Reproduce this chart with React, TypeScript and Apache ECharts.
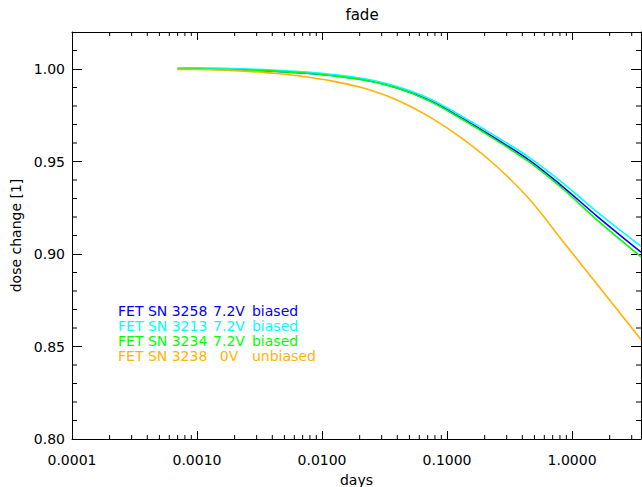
import React, { useEffect, useRef } from "react";
import * as echarts from "echarts";

// ---- data ----
const days = [0.0007, 0.001, 0.002, 0.0034, 0.0048, 0.0076, 0.0116, 0.0214, 0.0396, 0.0731, 0.135, 0.25, 0.46, 0.85, 1.58, 3.56];
const fet3258 = [1.0, 1.0, 0.9996, 0.9991, 0.9986, 0.9977, 0.9966, 0.9942, 0.9899, 0.983, 0.973, 0.962, 0.9505, 0.9362, 0.9205, 0.901];
const fet3213 = [1.0006, 1.0006, 1.0002, 0.9997, 0.9992, 0.9983, 0.9972, 0.9948, 0.9905, 0.9838, 0.974, 0.9633, 0.952, 0.9382, 0.9228, 0.9042];
const fet3234 = [1.0, 1.0, 0.9996, 0.9991, 0.9986, 0.9977, 0.9965, 0.9941, 0.9897, 0.9826, 0.9724, 0.9613, 0.9495, 0.935, 0.9185, 0.8985];
const fet3238 = [0.9998, 0.9997, 0.9991, 0.9982, 0.9973, 0.9957, 0.9937, 0.9897, 0.9833, 0.974, 0.962, 0.9473, 0.9293, 0.9066, 0.8838, 0.8538];

const serialNumbers = ["3258", "3213", "3234", "3238"];
const voltages = ["7.2V", "7.2V", "7.2V", "0V"];
const biasLabels = ["biased", "biased", "biased", "unbiased"];
const seriesValues = [fet3258, fet3213, fet3234, fet3238];
const colors = ["#0000ff", "#00ffff", "#00ff00", "#ffb400"];

const xMin = 0.0001;
const xMax = 3.56;
const yMin = 0.8;
const yMax = 1.02;
const xMinorTicks = [
  0.0002, 0.0003, 0.0004, 0.0005, 0.0006, 0.0007, 0.0008, 0.0009,
  0.002, 0.003, 0.004, 0.005, 0.006, 0.007, 0.008, 0.009,
  0.02, 0.03, 0.04, 0.05, 0.06, 0.07, 0.08, 0.09,
  0.2, 0.3, 0.4, 0.5, 0.6, 0.7, 0.8, 0.9,
  2, 3,
];
const yMinorTicks = [0.81, 0.82, 0.83, 0.84, 0.86, 0.87, 0.88, 0.89, 0.91, 0.92, 0.93, 0.94, 0.96, 0.97, 0.98, 0.99, 1.01];

const FONT = "DejaVu Sans";

export default function App() {
  const ref = useRef<HTMLDivElement>(null);
  useEffect(() => {
    if (!ref.current) return;
    const chart = echarts.init(ref.current, undefined, { renderer: "svg" });
    const names = serialNumbers.map((sn, i) => `FET SN ${sn} ${voltages[i]} ${biasLabels[i]}`);
    const isDecade = (v: number) => Math.abs(Math.log10(v) - Math.round(Math.log10(v))) < 1e-6;
    const axisLineStyle = { color: "#000", width: 1 };

    const lineSeries = names.map((name, i) => ({
      type: "line",
      name,
      xAxisIndex: 0,
      yAxisIndex: 0,
      data: days.map((d, j) => [d, seriesValues[i][j]]),
      showSymbol: false,
      smooth: 0.35,
      lineStyle: { color: colors[i], width: 1.6 },
      itemStyle: { color: colors[i] },
      z: 3 + i,
    }));

    const option: any = {
      animation: false,
      textStyle: { fontFamily: FONT },
      title: {
        text: "fade",
        left: 357,
        top: 2,
        textAlign: "center",
        textStyle: { fontFamily: FONT, fontSize: 15, fontWeight: "normal", color: "#000" },
      },
      grid: { left: 72, right: 1, top: 32, bottom: 48, containLabel: false, outerBoundsMode: "none" },
      legend: {
        orient: "vertical",
        left: 113,
        top: 303,
        icon: "none",
        itemWidth: 0,
        itemHeight: 15,
        itemGap: 0,
        padding: 0,
        selectedMode: false,
        data: names.map((n, i) => ({ name: n, textStyle: { color: colors[i] } })),
        formatter: (name: string) => {
          const i = names.indexOf(name);
          return `{a|FET SN ${serialNumbers[i]}}{b|${voltages[i]}}{c|${biasLabels[i]}}`;
        },
        textStyle: {
          fontFamily: FONT,
          fontSize: 14,
          lineHeight: 15,
          rich: {
            a: { width: 96, align: "left", fontSize: 14, fontFamily: FONT },
            b: { width: 30, align: "right", fontSize: 14, fontFamily: FONT },
            c: { padding: [0, 0, 0, 8], fontSize: 14, fontFamily: FONT },
          },
        },
      },
      xAxis: [
        {
          type: "log",
          position: "bottom",
          min: xMin,
          max: xMax,
          name: "days",
          nameLocation: "middle",
          nameGap: 24,
          nameTextStyle: { fontFamily: FONT, fontSize: 14, color: "#000", lineHeight: 16 },
          axisLine: { show: true, lineStyle: axisLineStyle },
          axisTick: { show: true, inside: true, length: 8, lineStyle: axisLineStyle },
          axisLabel: {
            fontFamily: FONT,
            fontSize: 14,
            color: "#000",
            margin: 14,
            formatter: (v: number) => (isDecade(v) ? v.toFixed(4) : ""),
          },
          splitLine: { show: false },
          minorTick: { show: false },
        },
        {
          type: "log",
          position: "top",
          min: xMin,
          max: xMax,
          axisLine: { show: true, lineStyle: axisLineStyle },
          axisTick: { show: true, inside: true, length: 8, lineStyle: axisLineStyle },
          axisLabel: { show: false },
          splitLine: { show: false },
        },
      ],
      yAxis: [
        {
          type: "value",
          position: "left",
          min: yMin,
          max: yMax,
          interval: 0.05,
          name: "dose change [1]",
          nameLocation: "middle",
          nameGap: 49,
          nameTextStyle: { fontFamily: FONT, fontSize: 14, color: "#000" },
          axisLine: { show: true, lineStyle: axisLineStyle },
          axisTick: { show: true, inside: true, length: 10, lineStyle: axisLineStyle },
          axisLabel: {
            fontFamily: FONT,
            fontSize: 14,
            color: "#000",
            margin: 7,
            formatter: (v: number) => (Math.abs(v * 20 - Math.round(v * 20)) < 1e-6 ? v.toFixed(2) : ""),
          },
          splitLine: { show: false },
        },
        {
          type: "value",
          position: "right",
          min: yMin,
          max: yMax,
          interval: 0.05,
          axisLine: { show: true, lineStyle: axisLineStyle },
          axisTick: { show: true, inside: true, length: 10, lineStyle: axisLineStyle },
          axisLabel: { show: false },
          splitLine: { show: false },
        },
      ],
      series: [
        ...lineSeries,
        {
          type: "custom",
          name: "xminor",
          xAxisIndex: 0,
          yAxisIndex: 0,
          silent: true,
          clip: false,
          z: 10,
          data: xMinorTicks.map((v) => [v, yMin]),
          renderItem: (params: any, api: any) => {
            const v = api.value(0);
            const b = api.coord([v, yMin]);
            const t = api.coord([v, yMax]);
            const style = { stroke: "#000", lineWidth: 1 };
            return {
              type: "group",
              children: [
                { type: "line", shape: { x1: b[0], y1: b[1], x2: b[0], y2: b[1] - 4 }, style },
                { type: "line", shape: { x1: t[0], y1: t[1], x2: t[0], y2: t[1] + 4 }, style },
              ],
            };
          },
        },
        {
          type: "custom",
          name: "yminor",
          xAxisIndex: 0,
          yAxisIndex: 0,
          silent: true,
          clip: false,
          z: 10,
          data: yMinorTicks.map((v) => [xMin, v]),
          renderItem: (params: any, api: any) => {
            const v = api.value(1);
            const l = api.coord([xMin, v]);
            const r = api.coord([xMax, v]);
            const style = { stroke: "#000", lineWidth: 1 };
            return {
              type: "group",
              children: [
                { type: "line", shape: { x1: l[0], y1: l[1], x2: l[0] + 5, y2: l[1] }, style },
                { type: "line", shape: { x1: r[0], y1: r[1], x2: r[0] - 5, y2: r[1] }, style },
              ],
            };
          },
        },
      ],
    };
    chart.setOption(option);
    return () => chart.dispose();
  }, []);
  return (
    <div
      ref={ref}
      style={{ position: "fixed", left: 0, top: 0, width: 642, height: 487, background: "#fff" }}
    />
  );
}
